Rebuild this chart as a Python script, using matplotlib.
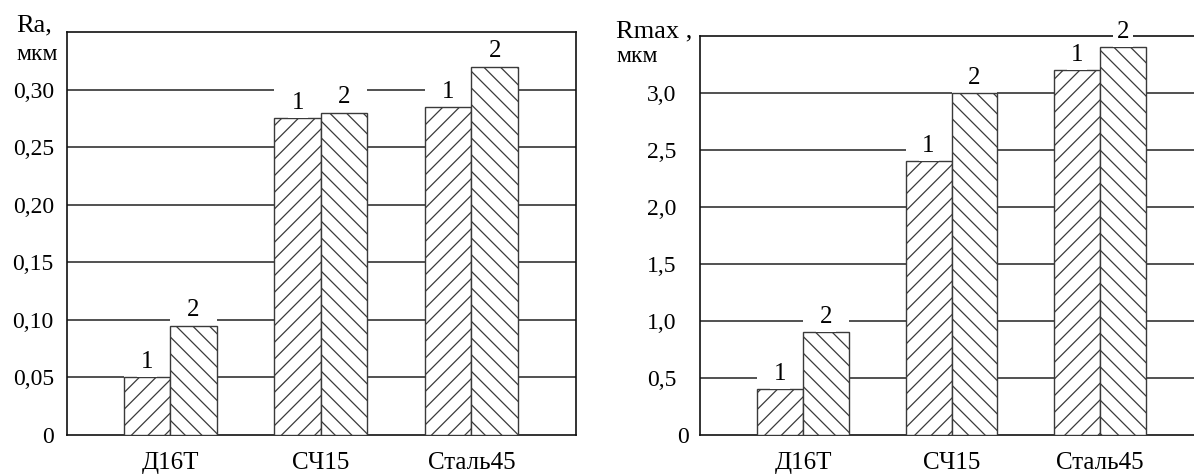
import matplotlib
matplotlib.use("Agg")
import matplotlib.pyplot as plt
import matplotlib.transforms as mtransforms
import numpy as np

plt.rcParams['font.family'] = ['Liberation Serif', 'DejaVu Serif']
plt.rcParams['hatch.linewidth'] = 0.9

categories = ["Д16Т", "СЧ15", "Сталь45"]
ra_series1 = [0.05, 0.275, 0.285]
ra_series2 = [0.095, 0.28, 0.32]
rmax_series1 = [0.4, 2.4, 3.2]
rmax_series2 = [0.9, 3.0, 3.4]
ra_ticks = [0, 0.05, 0.10, 0.15, 0.20, 0.25, 0.30]
ra_ticklabels = ["0", "0,05", "0,10", "0,15", "0,20", "0,25", "0,30"]
rmax_ticks = [0, 0.5, 1.0, 1.5, 2.0, 2.5, 3.0]
rmax_ticklabels = ["0", "0,5", "1,0", "1,5", "2,0", "2,5", "3,0"]
series_names = ["1", "2"]

W, H = 1194, 476
fig = plt.figure(figsize=(W / 100, H / 100), dpi=100)

def px_axes(x0, y0, x1, y1):
    return fig.add_axes([x0 / W, 1 - y1 / H, (x1 - x0) / W, (y1 - y0) / H])

bw = 0.309
FS = 17

def draw(ax, s1, s2, ticks, ticklabels, ymax, xlim, pad, right_spine):
    x = np.arange(len(categories))
    for t in ticks[1:]:
        ax.axhline(t, color='#222222', lw=1.1, zorder=1)
    b1 = ax.bar(x - bw / 2, s1, bw, facecolor='white', edgecolor='#3a3a3a',
                hatch='//', lw=1.0, zorder=3)
    b2 = ax.bar(x + bw / 2, s2, bw, facecolor='white', edgecolor='#3a3a3a',
                hatch='\\\\', lw=1.0, zorder=3)
    for bars, name in ((b1, series_names[0]), (b2, series_names[1])):
        for r in bars:
            cx = r.get_x() + r.get_width() / 2
            top = r.get_height()
            # wide white box interrupting gridlines (bar width)
            ax.annotate(" ", (cx, top), xytext=(0, 11), textcoords='offset points',
                        ha='center', va='center', fontsize=FS, color='none',
                        bbox=dict(boxstyle='square,pad=0', facecolor='white',
                                  edgecolor='none'),
                        zorder=2, annotation_clip=False)
            ax.annotate(name, (cx, top), xytext=(0, 11), textcoords='offset points',
                        ha='center', va='center', fontsize=FS + 1,
                        bbox=dict(boxstyle='square,pad=0.15', facecolor='white',
                                  edgecolor='none'),
                        zorder=4, annotation_clip=False)
    ax.set_xlim(*xlim)
    ax.set_ylim(0, ymax)
    ax.set_yticks(ticks)
    ax.set_yticklabels(ticklabels, fontsize=FS)
    ax.set_xticks(x)
    ax.set_xticklabels(categories, fontsize=FS + 1)
    ax.tick_params(axis='y', length=0, pad=pad)
    ax.tick_params(axis='x', length=0, pad=12)
    for s in ax.spines.values():
        s.set_linewidth(1.2)
        s.set_color('#111111')
        s.set_zorder(2.5)
    ax.spines['right'].set_visible(right_spine)
    ax.set_facecolor('none')

ax1 = px_axes(67, 32, 576, 435)
draw(ax1, ra_series1, ra_series2, ra_ticks, ra_ticklabels, 0.35,
     (-0.686, 2.694), 9.5, True)
ax2 = px_axes(700, 36, 1194, 435)
draw(ax2, rmax_series1, rmax_series2, rmax_ticks, rmax_ticklabels, 3.5,
     (-0.695, 2.634), 17, False)

# the "0" label of the right chart sits closer to the axis
lbl0 = ax2.get_yticklabels()[0]
lbl0.set_transform(lbl0.get_transform() +
                   mtransforms.ScaledTranslation(12 / 100, 0, fig.dpi_scale_trans))

# widen the invisible label boxes to bar width
fig.canvas.draw()
for ax in (ax1, ax2):
    p0 = ax.transData.transform((0, 0))[0]
    p1 = ax.transData.transform((bw, 0))[0]
    wpx = p1 - p0
    for t in ax.texts:
        if t.get_text() == " ":
            bb = t.get_window_extent()
            padpx = max(0, (wpx - bb.width) / 2)
            t.get_bbox_patch().set_boxstyle('square', pad=padpx / (FS * 100 / 72))

fig.text(16 / W, 1 - 25 / H, "Ra,", fontsize=19, ha='left', va='center')
fig.text(16 / W, 1 - 54 / H, "мкм", fontsize=17, ha='left', va='center')
fig.text(616 / W, 1 - 31 / H, "Rmax ,", fontsize=19, ha='left', va='center')
fig.text(616 / W, 1 - 57 / H, "мкм", fontsize=17, ha='left', va='center')

fig.savefig("out.png", dpi=100, facecolor='white')
